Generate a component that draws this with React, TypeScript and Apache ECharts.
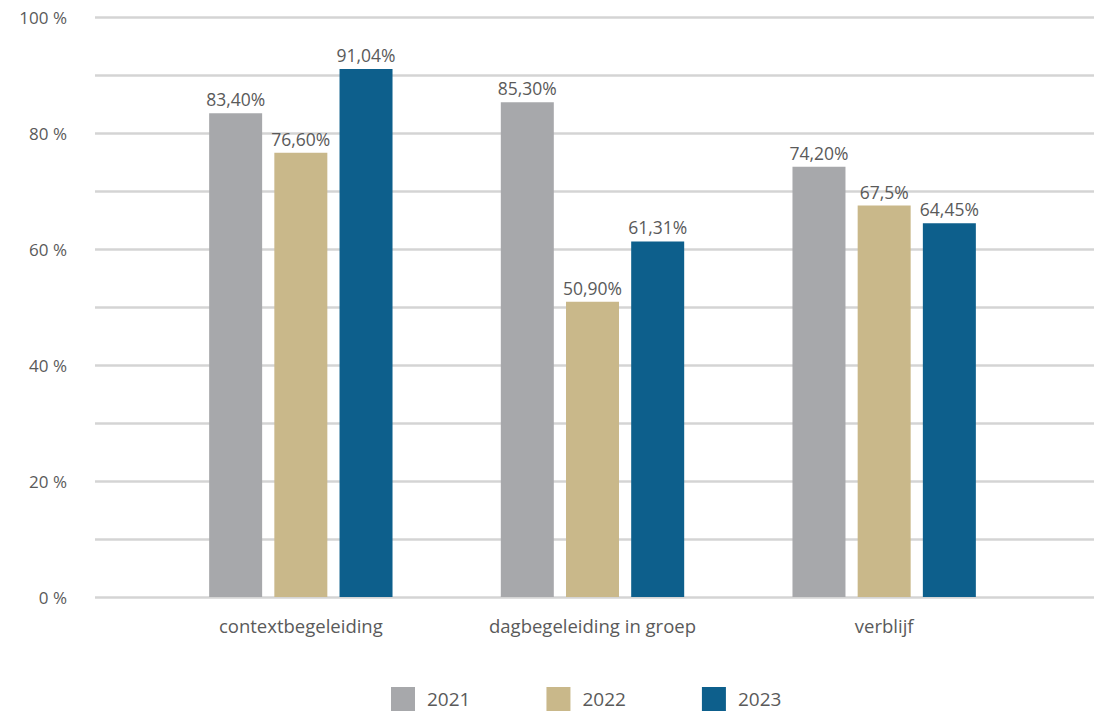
import React, { useEffect, useRef } from "react";
import * as echarts from "echarts";

const categories = ["contextbegeleiding", "dagbegeleiding in groep", "verblijf"];
const years = ["2021", "2022", "2023"];
const values2021 = [83.4, 85.3, 74.2];
const values2022 = [76.6, 50.9, 67.5];
const values2023 = [91.04, 61.31, 64.45];
const labels2021 = ["83,40%", "85,30%", "74,20%"];
const labels2022 = ["76,60%", "50,90%", "67,5%"];
const labels2023 = ["91,04%", "61,31%", "64,45%"];
const colors = ["#a7a8ab", "#c9b88a", "#0d5f8c"];

const FONT = "'Open Sans', 'Noto Sans', sans-serif";
const TEXT = "#5a5a5a";

export default function App() {
  const ref = useRef<HTMLDivElement>(null);
  useEffect(() => {
    document.body.style.margin = "0";
    if (!ref.current) return;
    const chart = echarts.init(ref.current, undefined, { renderer: "svg" });
    const allValues = [values2021, values2022, values2023];
    const allLabels = [labels2021, labels2022, labels2023];
    chart.setOption({
      animation: false,
      textStyle: { fontFamily: FONT },
      grid: [
        { left: 95, right: 0, top: 17, bottom: 118 },
        { left: 155, width: 875, top: 17, bottom: 118 },
      ],
      legend: {
        data: years,
        top: 687,
        left: 391,
        padding: 0,
        itemWidth: 24,
        itemHeight: 24,
        itemGap: 76,
        icon: "rect",
        textStyle: {
          color: TEXT,
          fontSize: 19,
          lineHeight: 24,
          fontFamily: FONT,
          padding: [0, 0, 0, 7],
        },
      },
      xAxis: [
        { type: "category", gridIndex: 0, data: ["a"], show: false },
        {
          type: "category",
          gridIndex: 1,
          data: categories,
          axisLine: { show: false },
          axisTick: { show: false },
          axisLabel: { color: TEXT, fontSize: 18.5, margin: 19, fontFamily: FONT },
        },
      ],
      yAxis: [
        {
          type: "value",
          gridIndex: 0,
          min: 0,
          max: 100,
          interval: 10,
          axisLine: { show: false },
          axisTick: { show: false },
          splitLine: { lineStyle: { color: "#d4d4d4", width: 2.5 } },
          axisLabel: {
            color: TEXT,
            fontSize: 17,
            margin: 28,
            fontFamily: FONT,
            formatter: (v: number) => (v % 20 === 0 ? `${v} %` : ""),
          },
        },
        { type: "value", gridIndex: 1, min: 0, max: 100, show: false },
      ],
      series: years.map((y, i) => ({
        name: y,
        type: "bar",
        xAxisIndex: 1,
        yAxisIndex: 1,
        barWidth: 53,
        barGap: "23%",
        itemStyle: { color: colors[i] },
        label: {
          show: true,
          position: "top",
          distance: 5,
          color: TEXT,
          fontSize: 17.5,
          fontFamily: FONT,
          formatter: (p: any) => allLabels[i][p.dataIndex],
        },
        data: allValues[i],
      })),
    });
    return () => chart.dispose();
  }, []);
  return <div ref={ref} style={{ width: 1094, height: 715 }} />;
}
